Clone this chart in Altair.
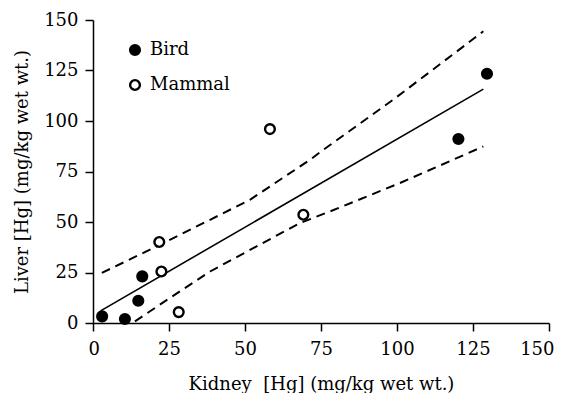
import altair as alt
import pandas as pd

# Observed points
bird_kidney = [3.0, 10.5, 14.9, 16.2, 120.2, 129.6]
bird_liver = [3.3, 2.0, 11.0, 23.1, 91.1, 123.4]
mammal_kidney = [21.8, 22.5, 28.2, 58.2, 69.2]
mammal_liver = [40.1, 25.5, 5.4, 96.0, 53.6]

# Regression line and band
fit_kidney = [2.5, 128.4]
fit_liver = [6.0, 115.8]
upper_kidney = [2.9, 18.75, 38.5, 51.6, 71.4, 75.8, 98.8, 128.4]
upper_liver = [24.8, 36.3, 51.1, 61.0, 80.8, 85.8, 110.6, 144.4]
lower_kidney = [13.8, 25.3, 38.5, 68.1, 77.9, 101.0, 128.4]
lower_liver = [0.8, 12.4, 25.5, 49.5, 55.2, 69.3, 87.4]

ticks = [0, 25, 50, 75, 100, 125, 150]
FONT = "DejaVu Serif"
FS = 18

pts = pd.DataFrame({
    "kidney": bird_kidney + mammal_kidney,
    "liver": bird_liver + mammal_liver,
    "group": ["Bird"] * len(bird_kidney) + ["Mammal"] * len(mammal_kidney),
})
fit = pd.DataFrame({"kidney": fit_kidney, "liver": fit_liver})
band = pd.DataFrame({
    "kidney": upper_kidney + lower_kidney,
    "liver": upper_liver + lower_liver,
    "side": ["upper"] * len(upper_kidney) + ["lower"] * len(lower_kidney),
})

xs = alt.Scale(domain=[0, 150], nice=False, zero=False)
ys = alt.Scale(domain=[0, 150], nice=False, zero=False)

xaxis = alt.Axis(values=ticks, title="Kidney\u00a0 [Hg] (mg/kg wet wt.)", grid=False,
                 labelFlush=True, labelFlushOffset=5)
yaxis = alt.Axis(values=ticks, title="Liver [Hg] (mg/kg wet wt.)", grid=False, labelFlush=False)

points = alt.Chart(pts).mark_circle(opacity=1, stroke="black", strokeWidth=2.4, size=95).encode(
    x=alt.X("kidney:Q", scale=xs, axis=xaxis),
    y=alt.Y("liver:Q", scale=ys, axis=yaxis),
    fill=alt.Fill("group:N",
                  scale=alt.Scale(domain=["Bird", "Mammal"], range=["black", "white"]),
                  legend=alt.Legend(title=None, orient="none", legendX=33, legendY=21,
                                    symbolType="circle", symbolSize=95,
                                    symbolStrokeColor="black", symbolStrokeWidth=2.4,
                                    symbolOpacity=1, labelFont=FONT, labelFontSize=FS,
                                    labelColor="black", rowPadding=15, labelOffset=6)),
)

fit_line = alt.Chart(fit).mark_line(color="black", strokeWidth=1.6).encode(
    x=alt.X("kidney:Q", scale=xs), y=alt.Y("liver:Q", scale=ys)
)

band_lines = alt.Chart(band).mark_line(color="black", strokeWidth=2, strokeDash=[9, 6]).encode(
    x=alt.X("kidney:Q", scale=xs), y=alt.Y("liver:Q", scale=ys), detail="side:N"
)

chart = alt.layer(band_lines, fit_line, points).properties(
    width=456, height=303,
    autosize=alt.AutoSizeParams(type="none"),
    padding={"left": 85, "top": 12, "right": 6, "bottom": 70},
).configure_view(stroke=None).configure_axis(
    labelFont=FONT, titleFont=FONT, labelFontSize=FS, titleFontSize=FS,
    labelColor="black", titleColor="black", titleFontWeight="normal",
    domainColor="black", tickColor="black", domainWidth=1.5, tickWidth=1.5,
    tickSize=8,
).configure_axisX(labelPadding=9, titlePadding=17).configure_axisY(labelPadding=7, titlePadding=12)

chart.save("out.html", embed_options={"renderer": "svg", "actions": False})
